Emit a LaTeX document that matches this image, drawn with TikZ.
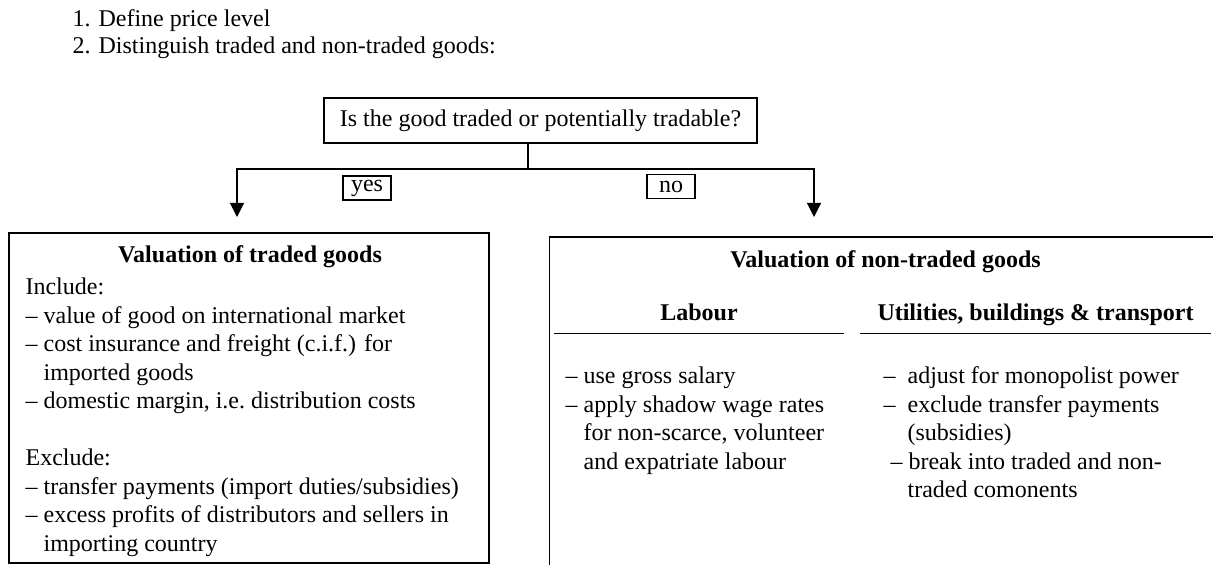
\documentclass[tikz,border=0pt]{standalone}
\usepackage{fontspec}
\setmainfont{Liberation Serif}
\usetikzlibrary{positioning,arrows.meta}

\begin{document}
\begin{tikzpicture}[x=0.5pt, y=-0.5pt, >={Triangle[width=7pt,length=7pt]}, font=\fontsize{12}{14.25}\selectfont, line width=0.6pt]
        \tikzstyle{qbox} = [rectangle, draw, minimum width=216.5pt, minimum height=22.5pt, inner sep=0pt]
        \tikzstyle{tag} = [rectangle, draw, minimum width=24pt, minimum height=12pt, inner sep=0pt]
        \tikzstyle{panel} = [rectangle, draw, inner sep=0pt]
        \tikzstyle{title} = [anchor=base, inner sep=0pt, font=\fontsize{12}{14.25}\selectfont\bfseries]
        \tikzstyle{head} = [title, text depth=6pt]
        \tikzstyle{list} = [anchor=north west, align=left, inner sep=0pt]
        \useasboundingbox (0,0) rectangle (1213,565);
        \clip (0,0) rectangle (1213,565);
        % steps
        \node[anchor=base west, inner sep=0pt] (define) at (72,27) {1. Define price level};
        \node[anchor=base west, inner sep=0pt] (distinguish) at (72,54) {2. Distinguish traded and non-traded goods:};
        % decision
        \node[qbox] (quest) at (540.5,120.5) {Is the good traded or potentially tradable?};
        \coordinate (fork) at (528,169);
        \coordinate (yesend) at (237,217);
        \coordinate (noend) at (814,217);
        \draw (quest.south -| fork) -- (fork);
        \draw[->] (fork) -| (yesend);
        \draw[->] (fork) -| (noend);
        \node[tag] (yes) at (367,188) {yes};
        \node[tag] (no) at (671,186.5) {no};
        % traded goods
        \node[panel, minimum width=240pt, minimum height=165pt] (traded) at (249,398) {};
        \node[title] (tradtitle) at (250,263) {Valuation of traded goods};
        \node[list] (tradlist) at (25,274) {\strut Include:\\
            – value of good on international market\\
            – cost insurance and freight (c.i.f.) for\\
            \phantom{– }imported goods\\
            – domestic margin, i.e.\ distribution costs\\[14.25pt]
            Exclude:\\
            – transfer payments (import duties/subsidies)\\
            – excess profits of distributors and sellers in\\
            \phantom{– }importing country};
        % non-traded goods
        \node[panel, anchor=north west, minimum width=350pt, minimum height=200pt] (nontrad) at (549,236.5) {};
        \node[title] (nontitle) at (885.5,268) {Valuation of non-traded goods};
        \node[head, minimum width=144pt] (labour) at (699,321) {Labour};
        \node[head, minimum width=174.5pt] (utility) at (1035.5,321) {Utilities, buildings \& transport};
        \draw (labour.south west) -- (labour.south east);
        \draw (utility.south west) -- (utility.south east);
        \node[list] (labourlist) at (565,363) {\strut – use gross salary\\
            – apply shadow wage rates\\
            \phantom{– }for non-scarce, volunteer\\
            \phantom{– }and expatriate labour};
        \node[list] (utillist) at (883,363) {\strut –\ \ adjust for monopolist power\\
            –\ \ exclude transfer payments\\
            \phantom{–\ \ }(subsidies)\\
            \hspace{3.5pt}– break into traded and non-\\
            \phantom{–\ \ }traded comonents};
    \end{tikzpicture}
\end{document}
